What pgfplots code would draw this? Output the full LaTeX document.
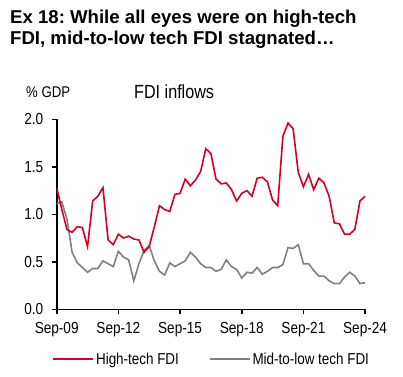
\documentclass[border=0pt]{standalone}
\usepackage{fontspec}
\setmainfont{Liberation Sans}
\newfontfamily\narrow[FakeStretch=0.85]{Liberation Sans}
\usepackage{pgfplots}
\usepackage{pgfplotstable}
\pgfplotsset{compat=1.18}
\frenchspacing
\definecolor{hsred}{RGB}{210,0,35}
\definecolor{hsgray}{RGB}{128,128,128}
\pgfplotstableread{
k red gray
0 1.28 1.11
1 1.05 1.13
2 0.84 0.95
3 0.81 0.60
4 0.87 0.49
5 0.86 0.44
6 0.66 0.39
7 1.14 0.43
8 1.19 0.43
9 1.28 0.51
10 0.73 0.48
11 0.68 0.45
12 0.79 0.61
13 0.75 0.55
14 0.77 0.52
15 0.74 0.30
16 0.73 0.48
17 0.60 0.62
18 0.66 0.67
19 0.87 0.51
20 1.09 0.40
21 1.05 0.36
22 1.03 0.49
23 1.21 0.45
24 1.22 0.48
25 1.37 0.51
26 1.30 0.60
27 1.36 0.55
28 1.45 0.48
29 1.69 0.44
30 1.64 0.44
31 1.37 0.40
32 1.32 0.42
33 1.33 0.52
34 1.26 0.45
35 1.14 0.42
36 1.22 0.33
37 1.25 0.39
38 1.19 0.38
39 1.38 0.44
40 1.39 0.37
41 1.34 0.40
42 1.15 0.44
43 1.09 0.44
44 1.82 0.47
45 1.96 0.65
46 1.90 0.64
47 1.44 0.68
48 1.29 0.48
49 1.42 0.48
50 1.26 0.41
51 1.38 0.35
52 1.33 0.35
53 1.19 0.30
54 0.91 0.27
55 0.90 0.27
56 0.79 0.34
57 0.79 0.39
58 0.84 0.35
59 1.14 0.27
60 1.19 0.28
}\fdidata
\begin{document}
\frenchspacing
\begin{tikzpicture}
\path[use as bounding box] (-56.7pt,-66.7pt) rectangle (346.3pt,309.3pt);
\node[anchor=base west,inner sep=0pt,font=\fontsize{18.6}{22}\selectfont\bfseries\frenchspacing] at (-46.7pt,286pt) {Ex 18: While all eyes were on high-tech};
\node[anchor=base west,inner sep=0pt,font=\fontsize{18.6}{22}\selectfont\bfseries\frenchspacing] at (-46.7pt,265pt) {FDI, mid-to-low tech FDI stagnated…};
\node[anchor=base west,inner sep=0pt,font=\narrow\fontsize{15.5}{18}\selectfont] at (-30.7pt,211.6pt) {\% GDP};
\node[anchor=base west,inner sep=0pt,font=\narrow\fontsize{19}{22}\selectfont] at (77.3pt,210.6pt) {FDI inflows};
\begin{axis}[
  at={(0pt,0pt)}, anchor=origin,
  scale only axis, width=308.4pt, height=190pt,
  xmin=0, xmax=60, ymin=0, ymax=2,
  axis x line=bottom, axis y line=left,
  axis line style={-, line width=1.6pt, black},
  every tick/.style={black, line width=1.6pt},
  tick align=outside, major tick length=5pt,
  xtick={0,12,24,36,48,60},
  xticklabels={Sep-09,Sep-12,Sep-15,Sep-18,Sep-21,Sep-24},
  ytick={0,0.5,1,1.5,2},
  yticklabel style={xshift=-5pt, /pgf/number format/.cd, fixed, fixed zerofill, precision=1, assume math mode=true},
  xticklabel style={yshift=-4pt},
  ticklabel style={font=\narrow\fontsize{16}{18}\selectfont},
  legend style={draw=none, fill=none, at={(-0.0143,-0.263)}, anchor=west,
    inner sep=0pt, font=\narrow\fontsize{15.8}{18}\selectfont,
    nodes={inner sep=2pt},
    /tikz/every even column/.append style={column sep=28pt}},
  legend columns=2,
  legend image code/.code={\draw[#1] (0pt,0pt) -- (40pt,0pt);},
]
\addplot[hsgray, line width=1.6pt, forget plot] table[x=k,y=gray] {\fdidata};
\addplot[hsred, line width=1.6pt] table[x=k,y=red] {\fdidata};
\addlegendentry{High-tech FDI}
\addlegendimage{hsgray, line width=1.6pt}
\addlegendentry{Mid-to-low tech FDI}
\end{axis}
\end{tikzpicture}
\end{document}
